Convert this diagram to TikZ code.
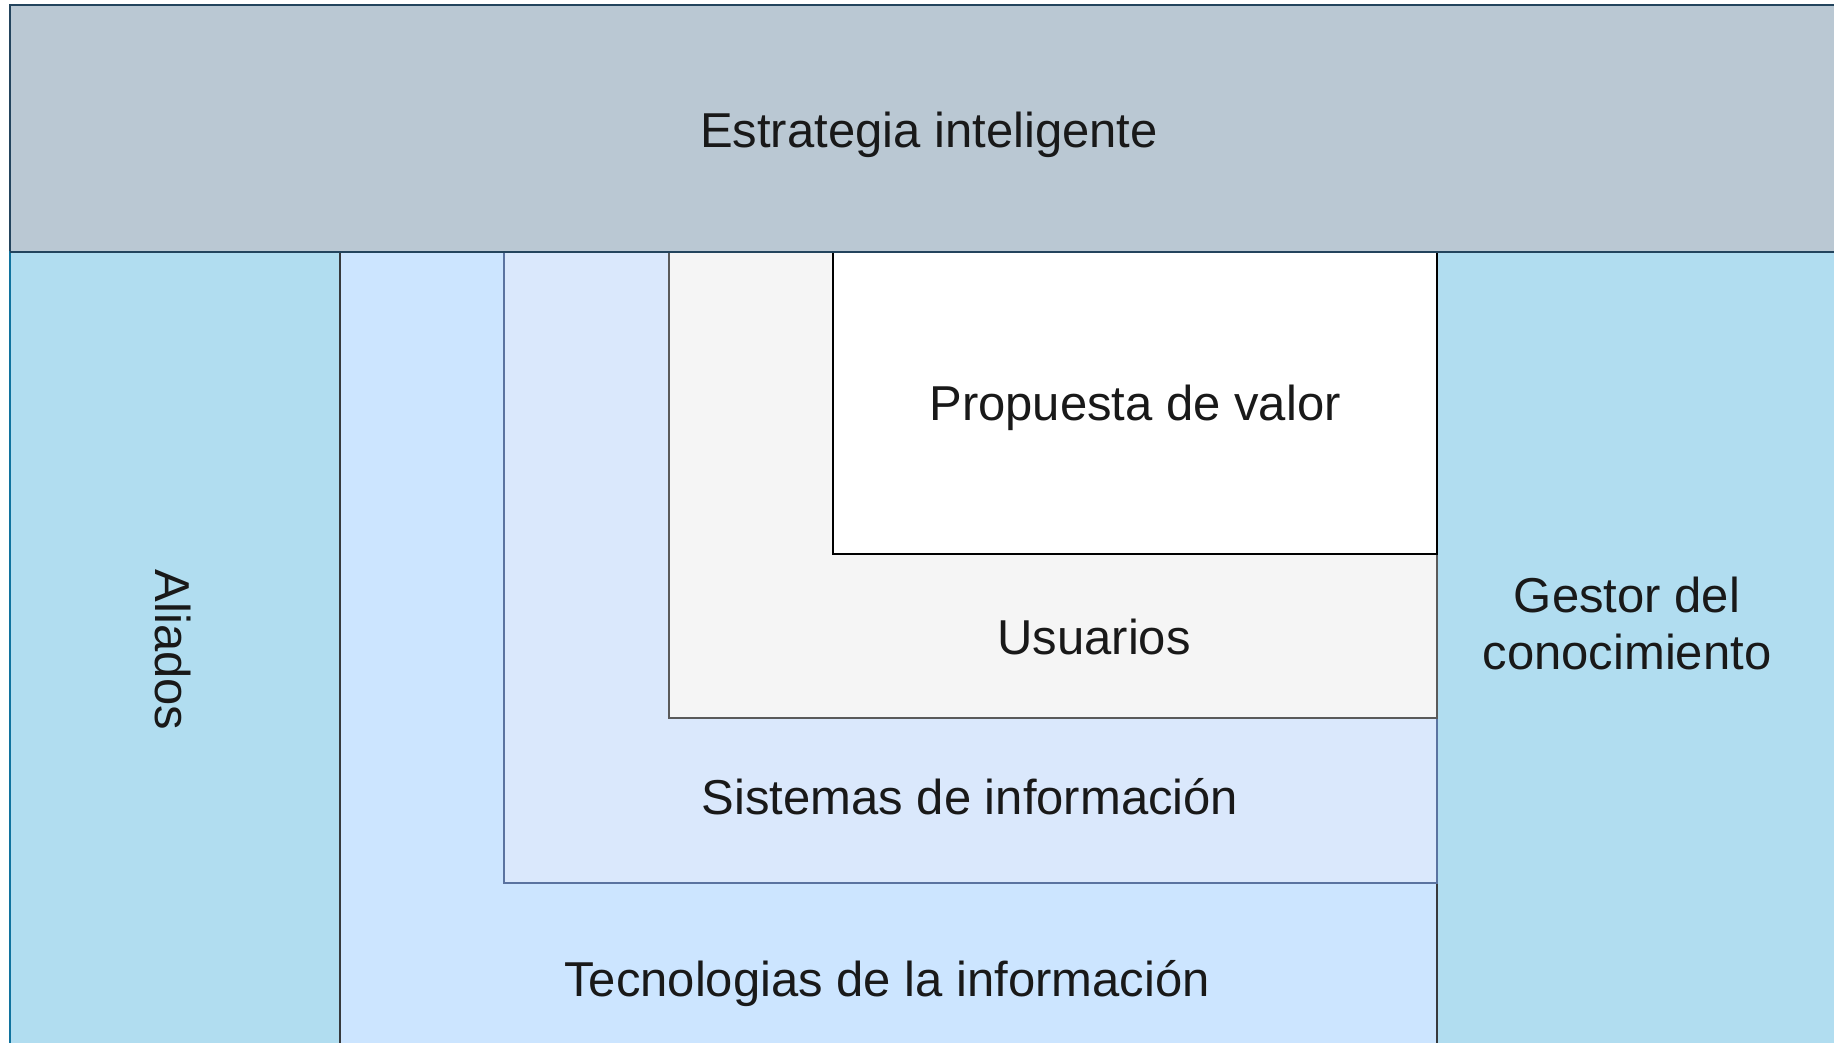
\documentclass[tikz,border=0pt]{standalone}
\usepackage{fontspec}
\setmainfont{Liberation Sans}
\begin{document}
\begin{tikzpicture}[x=1pt,y=-1pt,
  box/.style={line width=1.8pt},
  lbl/.style={font=\fontsize{49}{57}\selectfont, text=black!90, align=center, inner sep=0pt}]
\useasboundingbox (0,0) rectangle (1834,1043);
\begin{scope}
\clip (0,0) rectangle (1834,1043);
% top band
\draw[box, fill={rgb,255:red,186;green,200;blue,211}, draw={rgb,255:red,35;green,68;blue,93}] (10,5) rectangle (1850,252);
% Aliados column
\draw[box, fill={rgb,255:red,177;green,221;blue,240}, draw={rgb,255:red,16;green,115;blue,158}] (10,252) rectangle (340,1080);
% Gestor column
\draw[box, fill={rgb,255:red,177;green,221;blue,240}, draw={rgb,255:red,16;green,115;blue,158}] (1437,252) rectangle (1850,1080);
% Tecnologias
\draw[box, fill={rgb,255:red,204;green,229;blue,255}, draw={rgb,255:red,54;green,57;blue,61}] (340,252) rectangle (1437,1080);
% Sistemas
\draw[box, fill={rgb,255:red,218;green,232;blue,252}, draw={rgb,255:red,90;green,115;blue,160}] (504,252) rectangle (1437,883);
% Usuarios
\draw[box, fill={rgb,255:red,245;green,245;blue,245}, draw={rgb,255:red,90;green,90;blue,90}] (669,252) rectangle (1437,718);
% Propuesta
\draw[box, fill=white, draw=black] (833,252) rectangle (1437,554);
% top band bottom line redrawn
\draw[box, draw={rgb,255:red,35;green,68;blue,93}] (10,252) -- (1850,252);
\end{scope}
\node[lbl] (estr) at (929,135) {Estrategia inteligente};
\node[lbl] (prop) at (1135,408) {Propuesta de valor};
\node[lbl] (usu) at (1094,637) {Usuarios};
\node[lbl] (sis) at (970,797) {Sistemas de información};
\node[lbl] (tec) at (887,984) {Tecnologias de la información};
\node[lbl, rotate=-90] (ali) at (173,650) {Aliados};
\node[lbl] (ges) at (1627,623) {Gestor del\\conocimiento};
\end{tikzpicture}
\end{document}
